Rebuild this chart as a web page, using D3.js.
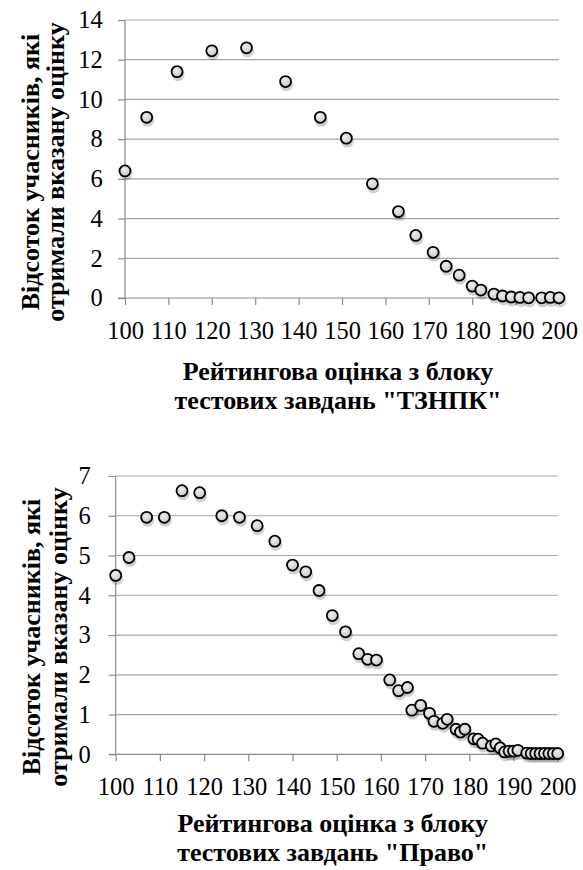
<!DOCTYPE html>
<html>
<head>
<meta charset="utf-8">
<script src="https://cdn.jsdelivr.net/npm/d3@7"></script>
</head>
<body style="margin:0">
<svg id="charts" width="583" height="870"></svg>
<script>
// ТЗНПК block: rating score -> percent of participants
const tznpkScores = [100, 105, 112, 120, 128, 137, 145, 151, 157, 163, 167, 171, 174, 177, 180, 182, 185, 187, 189, 191, 193, 196, 198, 200]
const tznpkPercent = [6.4, 9.1, 11.4, 12.45, 12.6, 10.9, 9.1, 8.05, 5.75, 4.35, 3.15, 2.3, 1.6, 1.15, 0.6, 0.4, 0.2, 0.1, 0.05, 0.03, 0.01, 0.01, 0.03, 0.01]

// Право block
const pravoScores = [100, 103, 107, 111, 115, 119, 124, 128, 132, 136, 140, 143, 146, 149, 152, 155, 157, 159,
  162, 164, 166, 167, 169, 171, 172, 174, 175, 177, 178, 179, 181, 182, 183, 185, 186, 187,
  188, 189, 190, 191, 193, 194, 195, 196, 197, 198, 199, 200]
const pravoPercent = [4.5, 4.95, 5.96, 5.96, 6.63, 6.58, 6.0, 5.96, 5.75, 5.36, 4.76, 4.59, 4.12, 3.49, 3.08, 2.53, 2.39, 2.37,
  1.87, 1.6, 1.68, 1.11, 1.23, 1.03, 0.83, 0.78, 0.88, 0.63, 0.56, 0.63, 0.39, 0.38, 0.28, 0.21, 0.26, 0.16,
  0.06, 0.08, 0.08, 0.1, 0.03, 0.02, 0.02, 0.02, 0.02, 0.02, 0.02, 0.02]

const xTicks = [100, 110, 120, 130, 140, 150, 160, 170, 180, 190, 200]
const tznpkYTicks = [0, 2, 4, 6, 8, 10, 12, 14]
const pravoYTicks = [0, 1, 2, 3, 4, 5, 6, 7]

const yTitle = ['Відсоток учасників, які', 'отримали вказану оцінку']
const tznpkXTitle = ['Рейтингова оцінка з блоку', 'тестових завдань "ТЗНПК"']
const pravoXTitle = ['Рейтингова оцінка з блоку', 'тестових завдань "Право"']

const serif = 'Liberation Serif'
const svg = d3.select('#charts')

// marker fill
const defs = svg.append('defs')
const grad = defs.append('radialGradient').attr('id', 'dotFill')
  .attr('cx', '40%').attr('cy', '35%').attr('r', '65%')
grad.append('stop').attr('offset', '0%').attr('stop-color', '#eeeeee')
grad.append('stop').attr('offset', '100%').attr('stop-color', '#c8c8c8')

function drawChart (cfg) {
  const x = d3.scaleLinear().domain([100, 200]).range([cfg.left, cfg.right])
  const y = d3.scaleLinear().domain([0, cfg.yMax]).range([cfg.bottom, cfg.top])
  const g = svg.append('g').attr('class', 'chart')

  // horizontal grid
  g.append('g').selectAll('line').data(cfg.yTicks.filter(d => d > 0)).enter().append('line')
    .attr('x1', cfg.left).attr('x2', cfg.right)
    .attr('y1', d => y(d)).attr('y2', d => y(d))
    .attr('stroke', '#a6a6a6').attr('stroke-width', 1.2)

  // y axis
  const yAxis = d3.axisLeft(y).tickValues(cfg.yTicks).tickFormat(d3.format('d')).tickSize(7).tickPadding(cfg.yPad)
  const ya = g.append('g').attr('transform', `translate(${cfg.left},0)`).call(yAxis)
    .attr('font-family', serif).attr('font-size', 24.5)
  ya.select('.domain').attr('d', `M0,${cfg.top}V${cfg.bottom}`)
  ya.selectAll('line').attr('stroke', '#8c8c8c').attr('stroke-width', 1.2)
  ya.select('.domain').attr('stroke', '#8c8c8c').attr('stroke-width', 1.2)
  ya.selectAll('text').attr('fill', '#000')

  // x axis
  const xAxis = d3.axisBottom(x).tickValues(xTicks).tickFormat(d3.format('d')).tickSize(7).tickPadding(16.3)
  const xa = g.append('g').attr('transform', `translate(0,${cfg.bottom})`).call(xAxis)
    .attr('font-family', serif).attr('font-size', 24.5)
  xa.select('.domain').attr('d', `M${cfg.left - 7},0H${cfg.right}`)
  xa.selectAll('line').attr('stroke', '#8c8c8c').attr('stroke-width', 1.2)
  xa.select('.domain').attr('stroke', '#8c8c8c').attr('stroke-width', 1.2)
  xa.selectAll('text').attr('fill', '#000')

  // y title
  const yt = g.append('text')
    .attr('transform', `translate(${cfg.yTitleX},${cfg.yTitleY}) rotate(-90)`)
    .attr('text-anchor', 'middle')
    .attr('font-family', serif).attr('font-weight', 'bold').attr('font-size', 26)
  yt.selectAll('tspan').data(yTitle).enter().append('tspan')
    .attr('x', 0).attr('dy', (d, i) => i === 0 ? 0 : cfg.yTitleGap)
    .text(d => d)

  // x title
  const xt = g.append('text')
    .attr('transform', `translate(${(cfg.left + cfg.right) / 2 - 4},${cfg.xTitleY})`)
    .attr('text-anchor', 'middle')
    .attr('font-family', serif).attr('font-weight', 'bold').attr('font-size', 26)
  xt.selectAll('tspan').data(cfg.xTitle).enter().append('tspan')
    .attr('x', 0).attr('dy', (d, i) => i === 0 ? 0 : 29)
    .text(d => d)

  // data points, with a soft offset copy underneath as a shadow
  const points = cfg.scores.map((s, i) => [s, cfg.percent[i]])
  const dots = g.append('g')
  dots.selectAll('circle.shadow').data(points).enter().append('circle')
    .attr('class', 'shadow')
    .attr('cx', d => x(d[0]) + 1)
    .attr('cy', d => y(d[1]) + 3)
    .attr('r', 6.5)
    .attr('fill', '#000').attr('fill-opacity', 0.18)
  dots.selectAll('circle.dot').data(points).enter().append('circle')
    .attr('class', 'dot')
    .attr('cx', d => x(d[0]))
    .attr('cy', d => y(d[1]))
    .attr('r', 5.5)
    .attr('fill', 'url(#dotFill)')
    .attr('stroke', '#000')
    .attr('stroke-width', 1.8)
}

drawChart({
  scores: tznpkScores, percent: tznpkPercent, yMax: 14, yTicks: tznpkYTicks,
  left: 125, right: 559, top: 20, bottom: 298, yPad: 15.3,
  yTitleX: 39, yTitleY: 172, yTitleGap: 25,
  xTitle: tznpkXTitle, xTitleY: 380
})

drawChart({
  scores: pravoScores, percent: pravoPercent, yMax: 7, yTicks: pravoYTicks,
  left: 115.7, right: 557.7, top: 476, bottom: 754.3, yPad: 18,
  yTitleX: 40, yTitleY: 637, yTitleGap: 27,
  xTitle: pravoXTitle, xTitleY: 832
})
</script>
</body>
</html>
